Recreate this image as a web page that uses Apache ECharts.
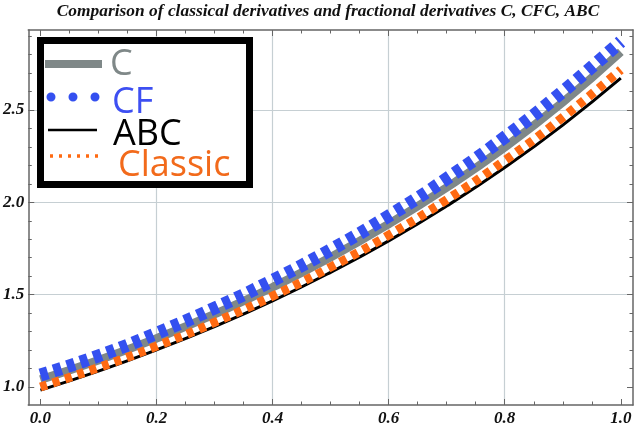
<!DOCTYPE html>
<html lang="en">
<head>
    <meta charset="UTF-8">
    <script src="https://cdn.jsdelivr.net/npm/echarts@6/dist/echarts.min.js"></script>
    <title>Comparison of derivatives</title>
    <style>
        html, body { margin: 0; padding: 0; background: #fff; }
    </style>
</head>
<body>
<div id="main" style="width: 640px;height:428px;"></div>

<script>
    // values, x = 0 .. 1 step 0.1
    var xs      = [0, 0.1, 0.2, 0.3, 0.4, 0.5, 0.6, 0.7, 0.8, 0.9, 1.0];
    var cVals   = [1.040, 1.145, 1.263, 1.394, 1.540, 1.702, 1.882, 2.080, 2.298, 2.542, 2.815];
    var cfVals  = [1.065, 1.168, 1.291, 1.427, 1.577, 1.743, 1.926, 2.128, 2.352, 2.600, 2.870];
    var abcVals = [0.983, 1.086, 1.201, 1.327, 1.466, 1.621, 1.791, 1.980, 2.188, 2.418, 2.672];
    var clsVals = [1.000, 1.105, 1.221, 1.350, 1.492, 1.649, 1.822, 2.014, 2.226, 2.460, 2.718];

    // tick labels / tick positions
    var xMajor = [0, 0.2, 0.4, 0.6, 0.8, 1.0];
    var xMinor = [0.05, 0.1, 0.15, 0.25, 0.3, 0.35, 0.45, 0.5, 0.55, 0.65, 0.7, 0.75, 0.85, 0.9, 0.95];
    var xGrid  = [0.2, 0.4, 0.6, 0.8];
    var yMajor = [1.0, 1.5, 2.0, 2.5];
    var yMinor = [1.1, 1.2, 1.3, 1.4, 1.6, 1.7, 1.8, 1.9, 2.1, 2.2, 2.3, 2.4, 2.6, 2.7, 2.8, 2.9];
    var yGrid  = [1.5, 2.0, 2.5];

    var names = ['C', 'CF', 'ABC', 'Classic'];

    var GRAY = '#7f8888', BLUE = '#3450f0', BLACK = '#000', ORANGE = '#ff6a12';
    var FRAME = '#666';
    var X_MIN = -0.021, X_MAX = 1.021, Y_MIN = 0.9025, Y_MAX = 2.933;

    function pairs(vals) {
        return xs.map(function (x, i) { return [x, vals[i]]; });
    }

    var labelStyle = {
        fontFamily: 'Liberation Serif',
        fontStyle: 'italic',
        fontWeight: 'bold',
        fontSize: 17,
        color: '#111'
    };

    // one axis = one job (labels+major ticks, minor ticks, grid lines)
    function xAx(pos, ticks, len, opts) {
        opts = opts || {};
        return {
            type: 'value', min: X_MIN, max: X_MAX, position: pos,
            axisLine: { show: !!opts.line, onZero: false, lineStyle: { color: FRAME, width: 1.5 } },
            axisTick: { show: len > 0, inside: true, length: len, customValues: ticks,
                        lineStyle: { color: FRAME, width: 1 } },
            axisLabel: opts.label ? Object.assign({ customValues: ticks, margin: 5,
                        formatter: function (v) { return v.toFixed(1); } }, labelStyle) : { show: false },
            splitLine: { show: !!opts.grid, lineStyle: { color: '#c6cfd3', width: 1.2 } }
        };
    }
    function yAx(pos, ticks, len, opts) {
        opts = opts || {};
        return {
            type: 'value', min: Y_MIN, max: Y_MAX, position: pos,
            axisLine: { show: !!opts.line, onZero: false, lineStyle: { color: FRAME, width: 1.5 } },
            axisTick: { show: len > 0, inside: true, length: len, customValues: ticks,
                        lineStyle: { color: FRAME, width: 1 } },
            axisLabel: opts.label ? Object.assign({ customValues: ticks, margin: 4,
                        formatter: function (v) { return v.toFixed(1); } }, labelStyle) : { show: false },
            splitLine: { show: !!opts.grid, lineStyle: { color: '#c6cfd3', width: 1.2 } }
        };
    }

    var chart = echarts.init(document.getElementById('main'));

    var legendFont = '"Open Sans"';
    var option = {
        animation: false,
        backgroundColor: '#fff',
        title: {
            text: 'Comparison of classical derivatives and fractional derivatives C, CFC, ABC',
            left: 328,
            textAlign: 'center',
            top: 3,
            padding: 0,
            textStyle: {
                fontFamily: 'Liberation Serif',
                fontStyle: 'italic',
                fontWeight: 'bold',
                fontSize: 17.4,
                color: '#111'
            }
        },
        grid: { left: 26, right: 7, top: 30, bottom: 23, containLabel: false },
        xAxis: [
            xAx('bottom', xGrid, 0, { grid: true }),
            xAx('bottom', xMajor, 6, { line: true, label: true }),
            xAx('bottom', xMinor, 3.5),
            xAx('top', xMajor, 6, { line: true }),
            xAx('top', xMinor, 3.5)
        ],
        yAxis: [
            yAx('left', yGrid, 0, { grid: true }),
            yAx('left', yMajor, 6, { line: true, label: true }),
            yAx('left', yMinor, 3.5),
            yAx('right', yMajor, 6, { line: true }),
            yAx('right', yMinor, 3.5)
        ],
        series: [
            {
                name: names[0], type: 'line', smooth: true, symbol: 'none',
                lineStyle: { color: GRAY, width: 8.5 },
                data: pairs(cVals)
            },
            {
                name: names[1], type: 'line', smooth: true, symbol: 'none',
                lineStyle: { color: BLUE, width: 13, type: [8, 6], cap: 'butt' },
                data: pairs(cfVals)
            },
            {
                name: names[2], type: 'line', smooth: true, symbol: 'none',
                lineStyle: { color: BLACK, width: 3 },
                data: pairs(abcVals)
            },
            {
                name: names[3], type: 'line', smooth: true, symbol: 'none',
                lineStyle: { color: ORANGE, width: 9, type: [7, 6], cap: 'butt' },
                data: pairs(clsVals)
            }
        ],
        // legend box drawn by hand, like the Mathematica inset
        graphic: [
            { type: 'rect', z: 100, shape: { x: 40.5, y: 40.5, width: 209, height: 144 },
              style: { fill: '#fff', stroke: '#000', lineWidth: 7 } },
            { type: 'line', z: 101, shape: { x1: 45, y1: 64, x2: 102, y2: 64 },
              style: { stroke: GRAY, lineWidth: 8 } },
            { type: 'line', z: 101, shape: { x1: 51, y1: 97, x2: 96, y2: 97 },
              style: { stroke: BLUE, lineWidth: 9, lineDash: [0, 22], lineCap: 'round' } },
            { type: 'line', z: 101, shape: { x1: 48, y1: 130, x2: 97, y2: 130 },
              style: { stroke: BLACK, lineWidth: 2.5 } },
            { type: 'line', z: 101, shape: { x1: 50, y1: 156, x2: 98, y2: 156 },
              style: { stroke: ORANGE, lineWidth: 3.5, lineDash: [3, 6] } },
            { type: 'text', z: 101, x: 110, y: 65,
              style: { text: names[0], fontFamily: legendFont, fontSize: 36, fill: GRAY, verticalAlign: 'middle' } },
            { type: 'text', z: 101, x: 112, y: 103,
              style: { text: names[1], fontFamily: legendFont, fontSize: 36, fill: '#3d4ff2', verticalAlign: 'middle' } },
            { type: 'text', z: 101, x: 113, y: 135,
              style: { text: names[2], fontFamily: legendFont, fontSize: 36, fill: BLACK, verticalAlign: 'middle' } },
            { type: 'text', z: 101, x: 118, y: 166,
              style: { text: names[3], fontFamily: legendFont, fontSize: 36, fill: '#f26a1b', verticalAlign: 'middle' } }
        ]
    };
    chart.setOption(option);
</script>
</body>
</html>
